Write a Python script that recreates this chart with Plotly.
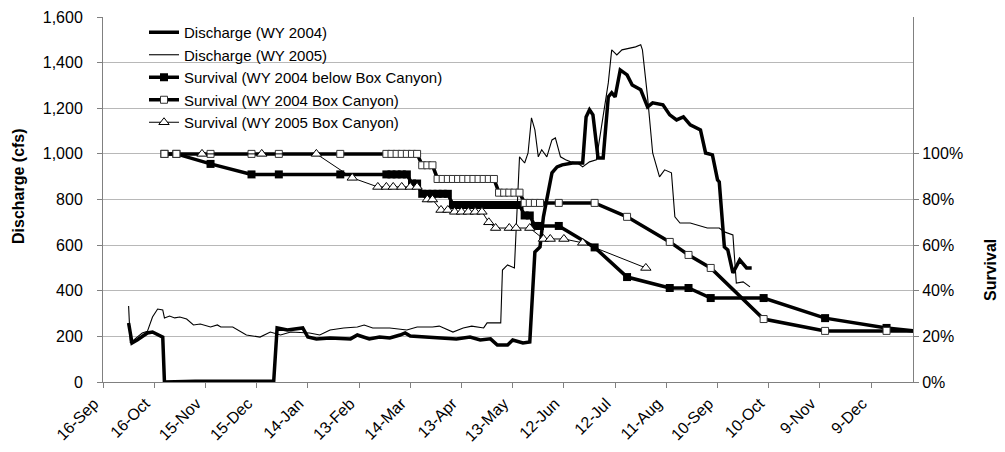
import pandas as pd
import plotly.graph_objects as go

# ---------------- data (x = day of water year, day 1 = 1 Oct) ----------------
q04_day = [1, 3, 6, 12, 15, 18, 21, 22, 40, 86, 88, 94, 100, 103, 106, 111, 119, 131, 135, 142,
           148, 154, 160, 163, 166, 178, 188, 193, 201, 207, 213, 217, 223, 226, 232, 236, 239, 242,
           244, 249, 252, 255, 261, 267, 269, 271, 273, 276, 279, 282, 284, 286, 289, 293, 296, 301,
           305, 308, 314, 318, 322, 326, 330, 336, 339, 343, 346, 347, 350, 352, 355, 356, 359, 363, 366]
q04_cfs = [259, 171, 184, 215, 219, 206, 197, 0, 3, 3, 237, 228, 232, 237, 197, 189, 193, 189, 206, 189,
           197, 193, 206, 215, 202, 197, 193, 189, 197, 184, 189, 162, 162, 184, 171, 175, 570, 592,
           724, 917, 943, 952, 960, 960, 1162, 1193, 1171, 982, 982, 1250, 1268, 1250, 1368, 1346, 1302, 1281,
           1206, 1224, 1215, 1171, 1149, 1162, 1127, 1105, 1004, 996, 886, 877, 592, 579, 478, 491, 535, 500, 500]

q05_day = [1, 2, 6, 9, 12, 15, 18, 21, 22, 25, 28, 31, 35, 39, 43, 49, 53, 55, 62, 70, 78, 84, 90, 96,
           107, 113, 119, 127, 135, 139, 144, 154, 164, 170, 179, 183, 191, 197, 202, 209, 211, 219, 220,
           223, 227, 229, 230, 233, 235, 237, 239, 241, 243, 246, 249, 251, 254, 257, 260, 264, 267, 271,
           275, 277, 280, 282, 284, 287, 290, 295, 298, 301, 302, 305, 308, 312, 315, 319, 321, 324, 330,
           340, 347, 350, 355, 357, 361, 365]
q05_cfs = [333, 171, 197, 215, 222, 285, 320, 316, 281, 289, 281, 285, 276, 250, 254, 241, 250, 241, 241, 206,
           197, 219, 206, 219, 215, 206, 228, 237, 241, 250, 237, 237, 228, 241, 241, 245, 219, 237, 245, 237,
           259, 259, 491, 513, 500, 842, 987, 960, 1004, 1158, 1105, 987, 1018, 987, 1061, 1070, 987, 974,
           965, 960, 943, 965, 974, 1070, 1206, 1311, 1456, 1434, 1456, 1465, 1469, 1478, 1456, 1250, 1004,
           899, 930, 917, 724, 697, 697, 675, 675, 658, 645, 434, 439, 417]

s04_day = [22, 29, 49, 73, 89, 125, 152, 155, 158, 161, 164, 167, 170, 173, 176, 179, 182, 185, 188, 191,
           194, 197, 200, 203, 206, 209, 212, 215, 218, 221, 224, 227, 230, 233, 236, 239, 242, 253, 274,
           293, 318, 329, 342, 373, 409, 445, 475]
s04_below = [100, 100, 95.6, 91, 91, 91, 91, 91, 91, 91, 91, 87, 87, 82.5, 82.5, 82.5, 82.5, 82.5, 82.5, 77.6,
             77.6, 77.6, 77.6, 77.6, 77.6, 77.6, 77.6, 77.6, 77.6, 77.6, 77.6, 77.6, 77.6, 73, 73, 68.4, 68.4, 68.4, 59,
             46, 41.2, 41.2, 36.8, 36.8, 28, 23.7, 21.2]
s04_box = [100, 100, 100, 100, 100, 100, 100, 100, 100, 100, 100, 100, 100, 95, 95, 95, 89, 89, 89, 89,
           89, 89, 89, 89, 89, 89, 89, 89, 83, 83, 83, 83, 83, 78.5, 78.5, 78.5, 78.5, 78.5, 78.5,
           72.4, 61.4, 55.7, 50, 27.6, 22.4, 22.4, 22.4]

s05_day = [44, 79, 111, 132, 147, 152, 156, 161, 166, 170, 176, 179, 184, 188, 192, 196, 200, 204, 208,
           212, 216, 224, 228, 236, 244, 248, 256, 267, 304]
s05_box = [100, 100, 100, 89.5, 85.5, 85.5, 85.5, 85.5, 85.5, 85.5, 80, 80, 75.4, 75.4, 74.6, 74.6, 74.6, 74.6, 74.6,
           70, 67.5, 67.5, 67.5, 67.5, 62.7, 62.7, 62.7, 61, 50]

tick_labels = ["16-Sep", "16-Oct", "15-Nov", "15-Dec", "14-Jan", "13-Feb", "14-Mar", "13-Apr",
               "13-May", "12-Jun", "12-Jul", "11-Aug", "10-Sep", "10-Oct", "9-Nov", "9-Dec"]
surv_ticks = [0, 20, 40, 60, 80, 100]

# ---------------- helpers ----------------
wy_start = pd.Timestamp("2003-09-30")


def to_dates(days):
    return [wy_start + pd.Timedelta(days=d) for d in days]


tick_vals = [pd.Timestamp("2003-09-16") + pd.Timedelta(days=30 * i) for i in range(len(tick_labels))]

FONT = "Liberation Sans, Arial, sans-serif"

fig = go.Figure()
fig.add_trace(go.Scatter(x=to_dates(q04_day), y=q04_cfs, mode="lines", name="Discharge (WY 2004)",
                         line=dict(color="black", width=3.5)))
fig.add_trace(go.Scatter(x=to_dates(q05_day), y=q05_cfs, mode="lines", name="Discharge (WY 2005)",
                         line=dict(color="black", width=1.1)))
fig.add_trace(go.Scatter(x=to_dates(s04_day), y=s04_below, mode="lines+markers",
                         name="Survival (WY 2004 below Box Canyon)", yaxis="y2",
                         line=dict(color="black", width=3.5),
                         marker=dict(symbol="square", size=8, color="black")))
fig.add_trace(go.Scatter(x=to_dates(s04_day), y=s04_box, mode="lines+markers",
                         name="Survival (WY 2004 Box Canyon)", yaxis="y2",
                         line=dict(color="black", width=3.5),
                         marker=dict(symbol="square", size=7, color="white",
                                     line=dict(color="#333333", width=1))))
fig.add_trace(go.Scatter(x=to_dates(s05_day), y=s05_box, mode="lines+markers",
                         name="Survival (WY 2005 Box Canyon)", yaxis="y2",
                         line=dict(color="black", width=1),
                         marker=dict(symbol="triangle-up", size=9, color="white",
                                     line=dict(color="black", width=1))))

# page has an 8px body margin; plot area target (page px): x 103..913, y 17..382
OFF = 8
W, H = 1005, 452
L, T = 103 - OFF, 17 - OFF
pw, ph = 810, 365
R = W - L - pw
B = H - T - ph


def px_x(page_x):
    return (page_x - OFF - L) / pw


def px_y(page_y):
    return (T + ph - (page_y - OFF)) / ph


fig.update_layout(
    template="none",
    width=W, height=H, autosize=False,
    margin=dict(l=L, r=R, t=T, b=B, pad=0, autoexpand=False),
    plot_bgcolor="white", paper_bgcolor="white",
    font=dict(family=FONT, size=16, color="black"),
    showlegend=True,
    legend=dict(x=px_x(144), y=px_y(16), xanchor="left", yanchor="top",
                bgcolor="rgba(0,0,0,0)", borderwidth=0, font=dict(size=15),
                tracegroupgap=0, itemwidth=30),
    xaxis=dict(type="date", range=["2003-09-16", "2005-01-02 12:00"],
               tickvals=tick_vals, ticktext=tick_labels, tickangle=-45,
               ticks="outside", ticklen=5, tickcolor="#808080",
               showline=True, linecolor="#808080", linewidth=1,
               showgrid=False, zeroline=False, tickfont=dict(size=16),
               ticklabelshift=-9, automargin=False),
    yaxis=dict(range=[0, 1600], dtick=200, tickformat=",d",
               ticks="outside", ticklen=5, tickcolor="#808080",
               showline=True, linecolor="#808080", linewidth=1,
               showgrid=True, gridcolor="#b8b8b8", gridwidth=1,
               zeroline=False, tickfont=dict(size=16), ticklabelstandoff=11,
               automargin=False),
    yaxis2=dict(range=[0, 160], tickvals=surv_ticks,
                ticktext=[f"{v}%" for v in surv_ticks],
                overlaying="y", side="right",
                ticks="outside", ticklen=5, tickcolor="#808080",
                showline=True, linecolor="#808080", linewidth=1,
                showgrid=False, zeroline=False, tickfont=dict(size=16),
                automargin=False),
    annotations=[
        dict(text="<b>Discharge (cfs)</b>", xref="paper", yref="paper",
             x=px_x(18), y=px_y(186), textangle=-90, showarrow=False,
             font=dict(size=16, family=FONT), xanchor="center", yanchor="middle"),
        dict(text="<b>Survival</b>", xref="paper", yref="paper",
             x=px_x(990), y=px_y(270), textangle=-90, showarrow=False,
             font=dict(size=16, family=FONT), xanchor="center", yanchor="middle"),
    ],
)

fig.write_html("out.html")
